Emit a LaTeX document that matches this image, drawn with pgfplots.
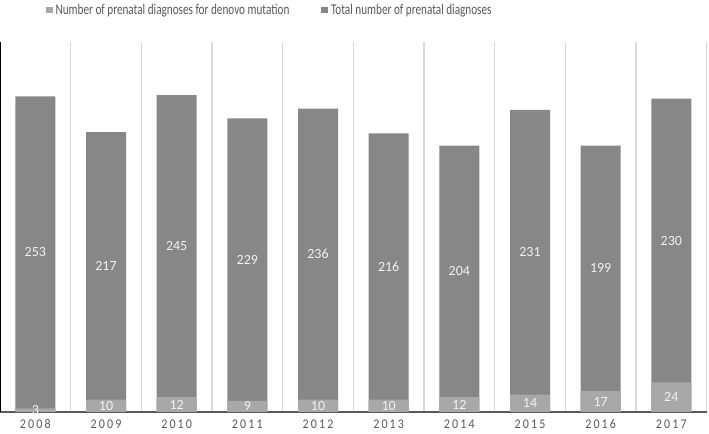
\documentclass[border=0pt]{standalone}
\usepackage{pgfplots}
\pgfplotsset{compat=1.18}
\usepackage{fontspec}
\setmainfont{Carlito}
\newfontfamily\spaced[LetterSpace=16, FakeStretch=0.9]{Carlito}
\newfontfamily\narrow[FakeStretch=0.75]{Carlito}
\definecolor{darkbar}{HTML}{878787}
\definecolor{lightbar}{HTML}{A8A8A8}
\definecolor{txtgray}{HTML}{595959}
\begin{document}
\begin{tikzpicture}
\begin{axis}[
  name=ax,
  scale only axis,
  width=530pt, height=277.5pt,
  xmin=-0.5, xmax=9.5,
  ymin=0, ymax=300,
  axis x line*=bottom,
  axis y line*=left,
  axis line style={-},
  x axis line style={draw=txtgray, line width=1.1pt},
  y axis line style={draw=black, line width=1.4pt},
  ytick=\empty,
  xtick={0,...,9},
  xticklabels={2008,2009,2010,2011,2012,2013,2014,2015,2016,2017},
  xticklabel style={font=\spaced\fontsize{10}{12}\selectfont, text=txtgray, yshift=-2.2pt},
  major tick length=0pt,
  minor tick length=0pt,
  minor xtick={0.5,1.5,...,9.5},
  xminorgrids,
  minor grid style={draw=black!15, line width=0.9pt},
  legend style={draw=none, at={(0.059,1.0865)}, anchor=west, legend columns=2,
    font=\narrow\fontsize{11.2}{13}\selectfont, text=txtgray,
    /tikz/every even column/.append style={column sep=22pt}},
  legend image code/.code={\fill[#1] (0pt,-2.6pt) rectangle (5.2pt,2.6pt);},
]
% total bar drawn at full stacked height, denovo part on top of it
\addplot[ybar, bar width=30pt, bar shift=0pt, fill=darkbar, draw=none, forget plot] coordinates {
(0,256) (1,227) (2,257) (3,238) (4,246) (5,226) (6,216) (7,245) (8,216) (9,254)
};
\addplot[ybar, bar width=30pt, bar shift=0pt, fill=lightbar, draw=none] coordinates {
(0,3) (1,10) (2,12) (3,9) (4,10) (5,10) (6,12) (7,14) (8,17) (9,24)
};
\addlegendentry{Number of prenatal diagnoses for denovo mutation}
\addlegendimage{fill=darkbar, draw=none}
\addlegendentry{Total number of prenatal diagnoses}
% value labels
\addplot[draw=none, forget plot, nodes near coords, point meta=explicit symbolic,
  every node near coord/.style={anchor=center, inner sep=0pt, text=white!95!black, font=\fontsize{10.5}{12}\selectfont}]
coordinates {
(0,1.5)[3] (1,5)[10] (2,6)[12] (3,4.5)[9] (4,5)[10] (5,5)[10] (6,6)[12] (7,7)[14] (8,8.5)[17] (9,12)[24]
(0,129.5)[253] (1,118.5)[217] (2,134.5)[245] (3,123.5)[229] (4,128)[236] (5,118)[216] (6,114)[204] (7,129.5)[231] (8,116.5)[199] (9,139)[230]
};
\end{axis}
\pgfresetboundingbox
\path (ax.south west) ++(0,-16pt) rectangle ([shift={(1.75pt,31.5pt)}]ax.north east);
\end{tikzpicture}
\end{document}
